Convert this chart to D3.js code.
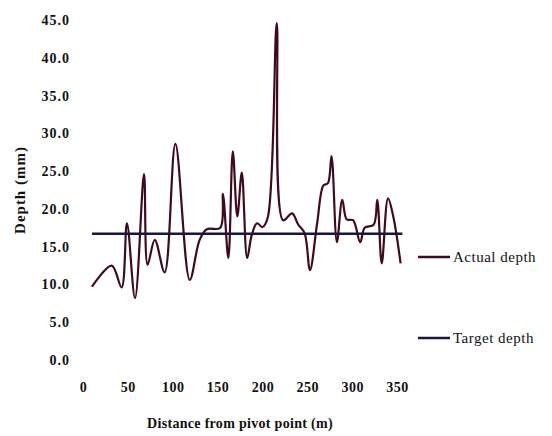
<!DOCTYPE html>
<html>
<head>
<meta charset="utf-8">
<script src="https://cdn.jsdelivr.net/npm/d3@7"></script>
<style>
  body { margin: 0; background: #fff; }
  text { font-family: "Liberation Serif", "DejaVu Serif", serif; }
</style>
</head>
<body>
<script>
var width = 552,
  height = 436;

// values
var distance = [10, 32, 43, 49, 58, 68, 72, 80, 91, 103, 119, 130, 138, 153, 156, 162, 167, 172, 177, 183, 188, 194, 200, 206, 216, 223, 233, 240, 247, 253, 261, 268, 273, 277, 283, 289, 294, 301, 309, 314, 324, 328, 333, 340, 346, 354];
var actualDepth = [9.7, 12.5, 9.6, 18.1, 8.2, 24.6, 12.6, 15.9, 11.6, 28.6, 10.6, 15.9, 17.3, 17.5, 22.0, 13.5, 27.6, 19.0, 24.8, 13.5, 16.5, 18.1, 17.6, 18.9, 44.6, 18.5, 19.4, 17.9, 16.8, 11.9, 18.1, 23.1, 23.4, 27.0, 15.6, 21.2, 18.6, 18.5, 15.6, 17.5, 17.9, 21.2, 12.8, 21.4, 18.9, 12.8];
var targetDistance = [10, 356];
var targetDepth = [16.7, 16.7];
var xTicks = [0, 50, 100, 150, 200, 250, 300, 350];
var yTicks = [0, 5, 10, 15, 20, 25, 30, 35, 40, 45];
var seriesNames = ["Actual depth", "Target depth"];
var seriesColors = ["#400a1e", "#16163e"];

var svg = d3.select("body").append("svg")
  .attr("width", width)
  .attr("height", height);

var x = d3.scaleLinear().domain([0, 350]).range([83, 397]);
var y = d3.scaleLinear().domain([0, 45]).range([360, 20]);

// axes (labels only, no lines)
var yAxis = svg.append("g")
  .attr("transform", "translate(83,0)")
  .call(d3.axisLeft(y).tickValues(yTicks).tickFormat(d3.format(".1f")).tickSize(0).tickPadding(13));
yAxis.select(".domain").remove();
yAxis.selectAll("text")
  .attr("font-family", "Liberation Serif, serif")
  .attr("font-size", 14)
  .attr("letter-spacing", 1)
  .attr("font-weight", "bold")
  .attr("fill", "#111");

var xAxis = svg.append("g")
  .attr("transform", "translate(0,360)")
  .call(d3.axisBottom(x).tickValues(xTicks).tickFormat(d3.format("d")).tickSize(0).tickPadding(22));
xAxis.select(".domain").remove();
xAxis.selectAll("text")
  .attr("font-family", "Liberation Serif, serif")
  .attr("font-size", 14)
  .attr("letter-spacing", 0.5)
  .attr("font-weight", "bold")
  .attr("fill", "#111");

// lines
var line = d3.line()
  .x(function (d) { return x(d[0]); })
  .y(function (d) { return y(d[1]); })
  .curve(d3.curveCatmullRom.alpha(0.5));

svg.append("path")
  .datum(d3.zip(distance, actualDepth))
  .attr("d", line)
  .attr("fill", "none")
  .attr("stroke", seriesColors[0])
  .attr("stroke-width", 2.2);

svg.append("path")
  .datum(d3.zip(targetDistance, targetDepth))
  .attr("d", d3.line().x(function (d) { return x(d[0]); }).y(function (d) { return y(d[1]); }))
  .attr("fill", "none")
  .attr("stroke", seriesColors[1])
  .attr("stroke-width", 2.6);

// axis titles
svg.append("text")
  .attr("transform", "translate(25,190) rotate(-90)")
  .attr("text-anchor", "middle")
  .attr("font-size", 15)
  .attr("letter-spacing", 1)
  .attr("font-weight", "bold")
  .attr("fill", "#111")
  .text("Depth (mm)");

svg.append("text")
  .attr("x", 240)
  .attr("y", 428)
  .attr("text-anchor", "middle")
  .attr("font-size", 14)
  .attr("letter-spacing", 0.3)
  .attr("font-weight", "bold")
  .attr("fill", "#111")
  .text("Distance from pivot point (m)");

// legend
var legendY = [257, 338];
var legend = svg.selectAll(".legend")
  .data(seriesNames)
  .enter().append("g")
  .attr("class", "legend")
  .attr("transform", function (d, i) { return "translate(418," + legendY[i] + ")"; });

legend.append("line")
  .attr("x1", 0).attr("x2", 32)
  .attr("stroke", function (d, i) { return seriesColors[i]; })
  .attr("stroke-width", 2.5);

legend.append("text")
  .attr("x", 35)
  .attr("dy", "0.35em")
  .attr("font-size", 15)
  .attr("letter-spacing", 0.5)
  .attr("fill", "#111")
  .text(function (d) { return d; });
</script>
</body>
</html>
